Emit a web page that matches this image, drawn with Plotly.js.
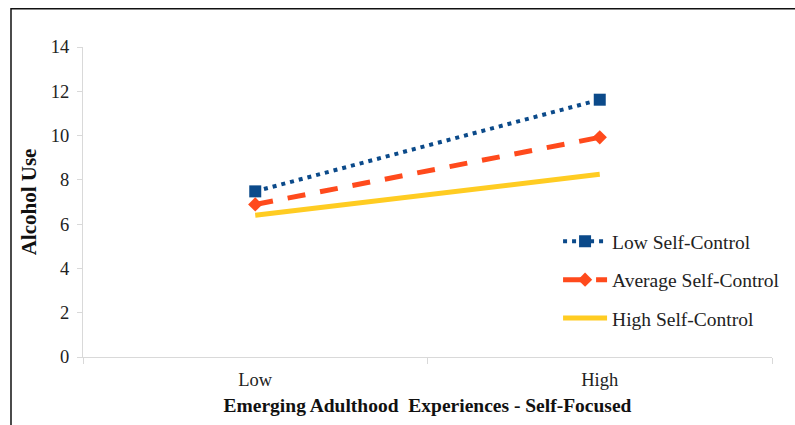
<!DOCTYPE html>
<html>
<head>
<meta charset="utf-8">
<script src="https://cdn.plot.ly/plotly-3.0.1.min.js"></script>
<style>
  html, body { margin: 0; padding: 0; background: #fff; }
  #chart { width: 795px; height: 425px; }
</style>
</head>
<body>
<div id="chart"></div>
<script>
// Simple-slope values: alcohol use by level of self-focused experiences
const categories = ['Low', 'High'];
const lowSelfControl = [7.48, 11.62];
const averageSelfControl = [6.89, 9.92];
const highSelfControl = [6.40, 8.25];
const seriesNames = ['Low Self-Control', 'Average Self-Control', 'High Self-Control'];
const yTicks = [0, 2, 4, 6, 8, 10, 12, 14];

const serif = '"Liberation Serif", "Times New Roman", serif';

const traces = [
  {
    x: categories, y: lowSelfControl, name: seriesNames[0],
    type: 'scatter', mode: 'lines+markers', legendgroup: 'a',
    line: { color: '#0B4A8A', width: 4, dash: '4px,5px' },
    marker: { symbol: 'square', size: 12, color: '#0B4A8A' }
  },
  {
    x: categories, y: averageSelfControl, name: seriesNames[1],
    type: 'scatter', mode: 'lines+markers', legendgroup: 'b',
    line: { color: '#FF4A1C', width: 5, dash: '18px,15px' },
    marker: { symbol: 'diamond', size: 11, color: '#FF4A1C' }
  },
  {
    x: categories, y: highSelfControl, name: seriesNames[2],
    type: 'scatter', mode: 'lines', legendgroup: 'c',
    line: { color: '#FFCC22', width: 5 }
  }
];

const layout = {
  width: 795, height: 425,
  margin: { l: 83, r: 23, t: 47, b: 68, autoexpand: false },
  paper_bgcolor: '#ffffff', plot_bgcolor: '#ffffff',
  font: { family: serif, size: 18, color: '#222' },
  showlegend: true,
  legend: {
    x: 0.6895, y: 0.435, xanchor: 'left', yanchor: 'top',
    bgcolor: 'rgba(0,0,0,0)', tracegroupgap: 10,
    font: { family: serif, size: 19.5, color: '#222' },
    itemwidth: 44
  },
  xaxis: {
    type: 'category', range: [-0.5, 1.5],
    showgrid: false, zeroline: false,
    showline: true, linecolor: '#d9d9d9', linewidth: 1,
    ticks: 'outside', tickson: 'boundaries', ticklen: 6, tickcolor: '#d9d9d9',
    ticklabelstandoff: 6,
    tickfont: { family: serif, size: 18.5, color: '#222' },
    title: { text: '<b>Emerging Adulthood  Experiences - Self-Focused</b>',
             font: { family: serif, size: 19.5, color: '#111' }, standoff: 9 }
  },
  yaxis: {
    range: [0, 14], tickvals: yTicks,
    showgrid: false, zeroline: false,
    showline: true, linecolor: '#d9d9d9', linewidth: 1,
    ticks: 'outside', ticklen: 5, tickcolor: '#d9d9d9',
    ticklabelstandoff: 4,
    tickfont: { family: serif, size: 18.5, color: '#222' },
    title: { text: '<b>Alcohol Use</b>',
             font: { family: serif, size: 21, color: '#111' }, standoff: 8 }
  },
  shapes: [
    {
      type: 'path', xref: 'paper', yref: 'paper',
      path: 'M -0.1045,-0.3 L -0.1045,1.1235 L 1.1,1.1235',
      line: { color: '#111', width: 1.5 }
    }
  ]
};

Plotly.newPlot('chart', traces, layout, { displayModeBar: false, staticPlot: true });
</script>
</body>
</html>
